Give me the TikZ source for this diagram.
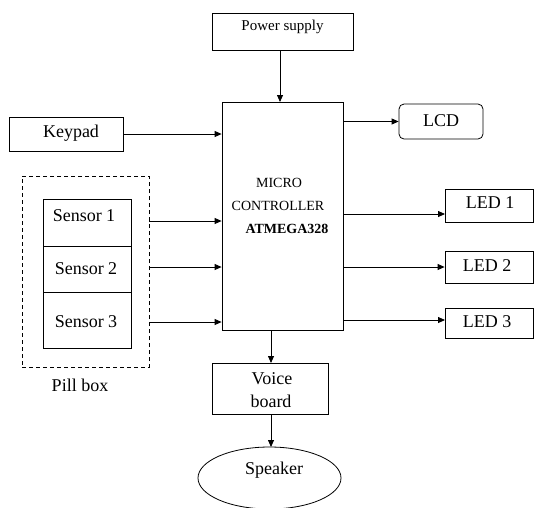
\documentclass[tikz,border=0pt]{standalone}
\usepackage{fontspec}
\setmainfont{Liberation Serif}
\usetikzlibrary{arrows.meta,shapes.geometric}
\begin{document}
\begin{tikzpicture}[x=1pt,y=-1pt,
  box/.style={draw,line width=0.8pt,rectangle,inner sep=0pt},
  txt/.style={inner sep=0pt,font=\fontsize{18}{20}\selectfont},
  arr/.style={line width=0.8pt,-{Triangle[length=7pt,width=6pt]}}]
\useasboundingbox (0,0) rectangle (537,507);
% boxes
\node[box,minimum width=141pt,minimum height=37pt] (power) at (282.5,31.5) {};
\node[inner sep=0pt,font=\fontsize{15}{17}\selectfont] (powert) at (282.5,27) {Power supply};
\node[box,minimum width=121pt,minimum height=228pt] (mc) at (282.5,216) {};
\node[inner sep=0pt,font=\fontsize{14}{16}\selectfont] (mct1) at (279,183) {MICRO};
\node[inner sep=0pt,font=\fontsize{14}{16}\selectfont] (mct2) at (278,206) {CONTROLLER};
\node[inner sep=0pt,font=\fontsize{14}{16}\selectfont\bfseries] (mct3) at (287,229) {ATMEGA328};
\node[box,rounded corners=5pt,minimum width=84pt,minimum height=35pt] (lcd) at (441,121.5) {};
\node[txt] (lcdt) at (441,121) {LCD};
\node[box,minimum width=88pt,minimum height=33pt] (led1) at (489,205.5) {};
\node[txt] (led1t) at (490,203) {LED 1};
\node[box,minimum width=88pt,minimum height=32pt] (led2) at (489,267) {};
\node[txt] (led2t) at (487,266) {LED 2};
\node[box,minimum width=88pt,minimum height=30pt] (led3) at (489,323) {};
\node[txt] (led3t) at (487,322) {LED 3};
\node[box,minimum width=114pt,minimum height=34pt] (keypad) at (66,134) {};
\node[txt] (keypadt) at (71,133) {Keypad};
\node[box,dashed,dash pattern=on 4pt off 3pt,minimum width=127pt,minimum height=191pt] (pill) at (85.5,271.5) {};
\node[txt] (pillt) at (80,385) {Pill box};
\node[box,minimum width=88pt,minimum height=47pt] (s1) at (87,222.5) {};
\node[txt] (s1t) at (84,216) {Sensor 1};
\node[box,minimum width=88pt,minimum height=46pt] (s2) at (87,269) {};
\node[txt] (s2t) at (86,269) {Sensor 2};
\node[box,minimum width=88pt,minimum height=56pt] (s3) at (87,320) {};
\node[txt] (s3t) at (86,322) {Sensor 3};
\node[box,minimum width=116pt,minimum height=51pt] (voice) at (270,388.5) {};
\node[txt] (voicet1) at (272,379) {Voice};
\node[txt] (voicet2) at (271,401) {board};
\node[draw,line width=0.8pt,ellipse,inner sep=0pt,minimum width=143pt,minimum height=62pt] (spk) at (269.5,478) {};
\node[txt] (spkt) at (274,470) {Speaker};
% connectors
\coordinate (pin) at (280,102);
\draw[arr] (power.south -| pin) -- (pin);
\draw[arr] (keypad.east) -- (keypad.east -| mc.west);
\coordinate (a1) at (445,214);
\coordinate (b1) at (149,221);
\coordinate (b2) at (149,267);
\coordinate (b3) at (149,322);
\draw[arr] (b1) -- (mc.west |- b1);
\draw[arr] (b2) -- (mc.west |- b2);
\draw[arr] (b3) -- (mc.west |- b3);
\draw[arr] (mc.east |- lcd.west) -- (lcd.west);
\draw[arr] (mc.east |- a1) -- (a1);
\draw[arr] (mc.east |- led2.west) -- (led2.west);
\coordinate (a3) at (445,320);
\draw[arr] (mc.east |- a3) -- (a3);
\coordinate (vx) at (271,363);
\draw[arr] (mc.south -| vx) -- (vx);
\coordinate (sx) at (271,447);
\draw[arr] (voice.south -| sx) -- (sx);
\end{tikzpicture}
\end{document}
